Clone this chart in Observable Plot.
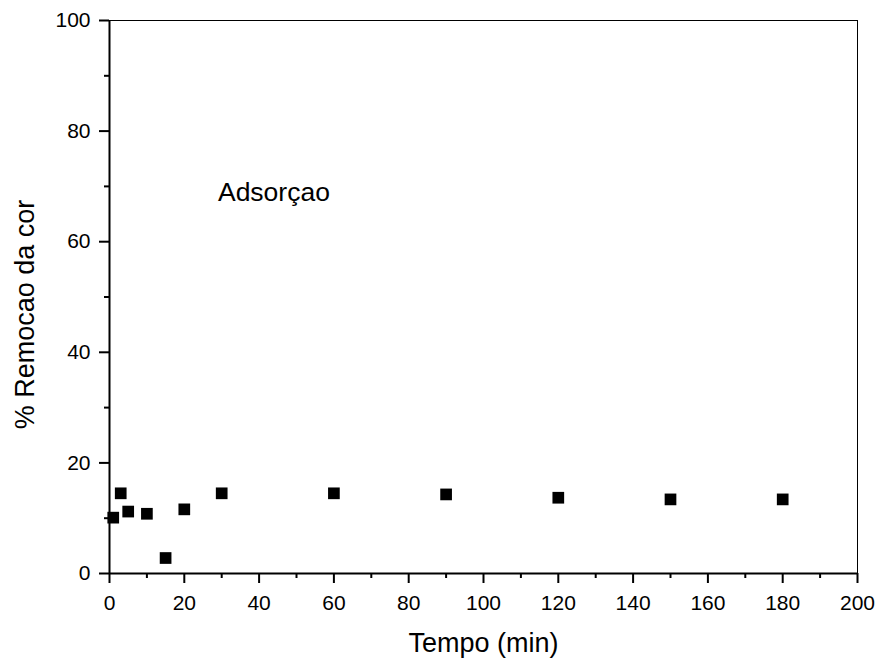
<!DOCTYPE html>
<html>
<head>
<meta charset="utf-8">
<script src="https://cdn.jsdelivr.net/npm/d3@7"></script>
<script src="https://cdn.jsdelivr.net/npm/@observablehq/plot@0.6"></script>
<style>
  html, body { margin: 0; padding: 0; background: #fff; }
  #chart svg { display: block; }
</style>
</head>
<body>
<div id="chart"></div>
<script>
// Data
const tempo = [1, 3, 5, 10, 15, 20, 30, 60, 90, 120, 150, 180];
const remocao = [10.1, 14.5, 11.2, 10.8, 2.8, 11.6, 14.5, 14.5, 14.3, 13.7, 13.4, 13.4];

const xMajorTicks = [0, 20, 40, 60, 80, 100, 120, 140, 160, 180, 200];
const xMinorTicks = [10, 30, 50, 70, 90, 110, 130, 150, 170, 190];
const yMajorTicks = [0, 20, 40, 60, 80, 100];
const yMinorTicks = [10, 30, 50, 70, 90];

const xTitle = "Tempo (min)";
const yTitle = "% Remocao da cor";
const annotationText = ["Adsorçao"];
const annotationX = [29];
const annotationY = [67.4];

const points = tempo.map((t, i) => ({t, r: remocao[i]}));
const notes = annotationText.map((s, i) => ({s, x: annotationX[i], y: annotationY[i]}));

const chart = Plot.plot({
  width: 879,
  height: 660,
  marginLeft: 109,
  marginRight: 22,
  marginTop: 20,
  marginBottom: 87,
  style: {fontFamily: "Arial, 'Liberation Sans', sans-serif", background: "#fff", color: "#000"},
  x: {domain: [0, 200]},
  y: {domain: [0, 100]},
  marks: [
    Plot.frame({stroke: "#000", strokeWidth: 1}),
    Plot.axisX(xMajorTicks, {tickSize: 10, tickPadding: 12, fontSize: 21, strokeWidth: 2, label: null}),
    Plot.axisX(xMinorTicks, {tickSize: 5, tickFormat: () => "", strokeWidth: 2, label: null}),
    Plot.axisY(yMajorTicks, {tickSize: 10, tickPadding: 9, fontSize: 21, strokeWidth: 2, label: null}),
    Plot.axisY(yMinorTicks, {tickSize: 5, tickFormat: () => "", strokeWidth: 2, label: null}),
    Plot.ruleX([0], {stroke: "#000", strokeWidth: 2}),
    Plot.ruleY([0], {stroke: "#000", strokeWidth: 2}),
    Plot.dot(points, {x: "t", y: "r", symbol: "square", r: 6.6, fill: "#000", stroke: null}),
    Plot.text(notes, {x: "x", y: "y", text: "s", textAnchor: "start", lineAnchor: "bottom", fontSize: 26.5, fill: "#000"}),
    Plot.text([xTitle], {frameAnchor: "bottom", textAnchor: "middle", lineAnchor: "bottom", dy: 78, fontSize: 27, fill: "#000"}),
    Plot.text([yTitle], {frameAnchor: "left", textAnchor: "middle", lineAnchor: "bottom", rotate: -90, dx: -76, dy: 17.5, fontSize: 27, fill: "#000"})
  ]
});
document.getElementById("chart").appendChild(chart);
</script>
</body>
</html>
